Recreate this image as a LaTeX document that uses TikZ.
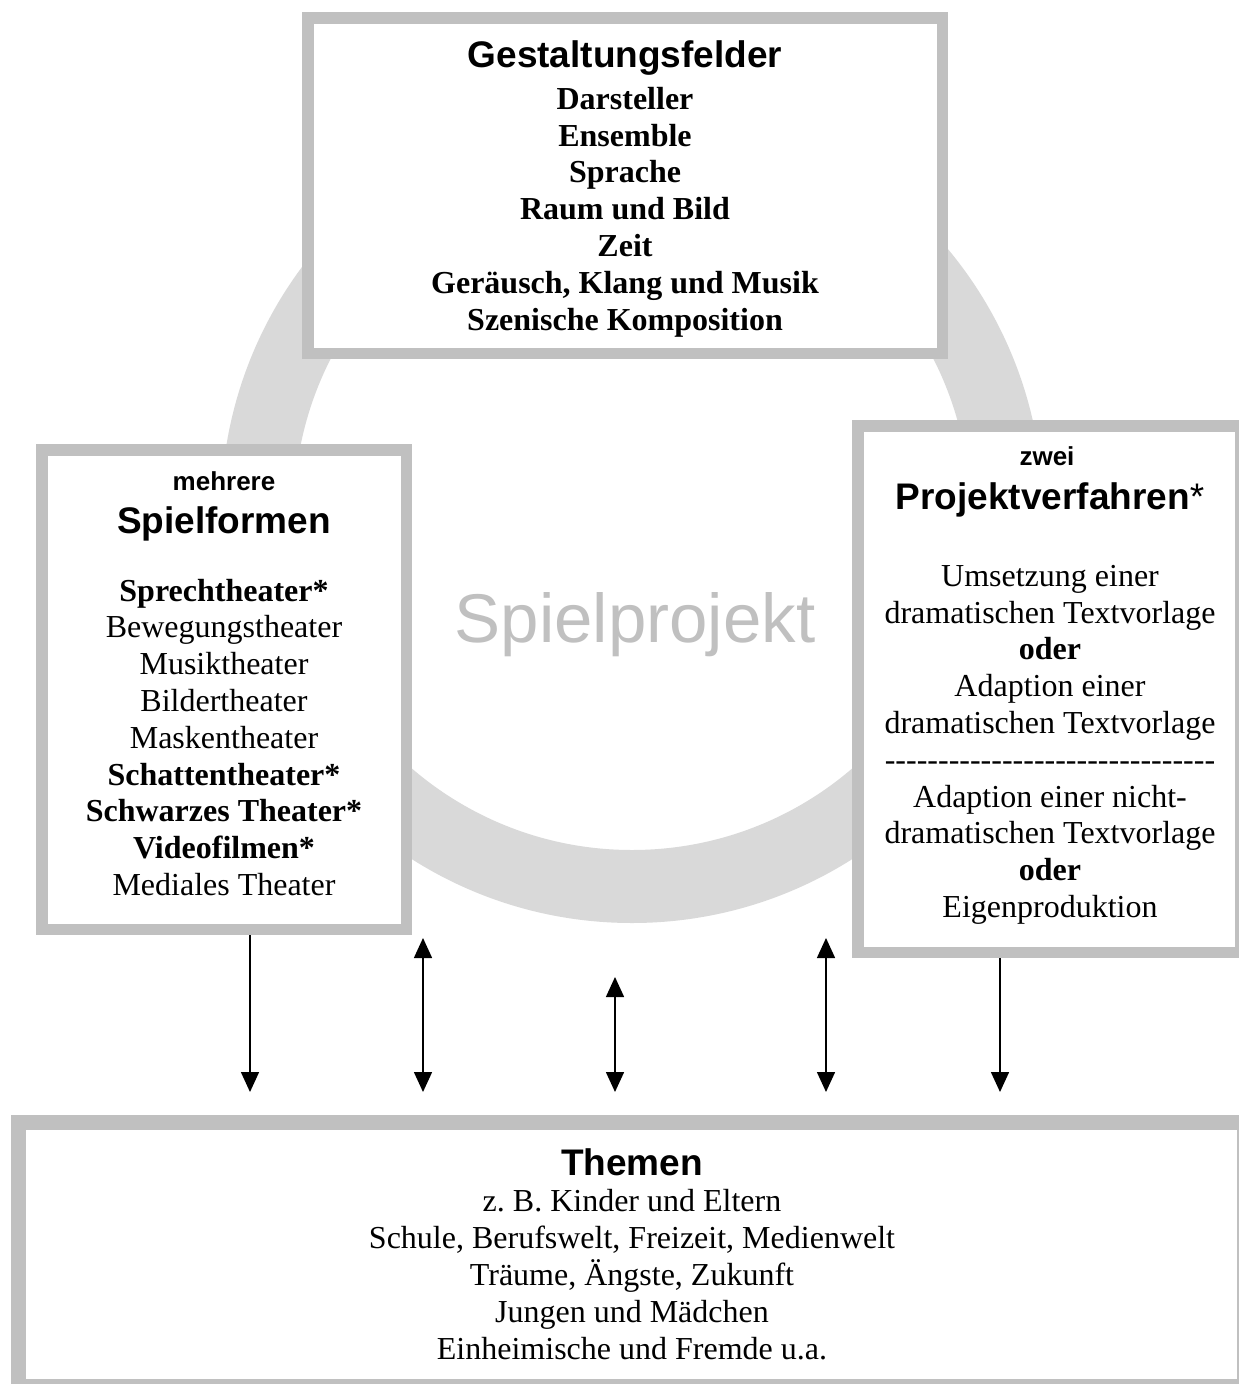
\documentclass[tikz,border=0pt]{standalone}
\usepackage{fontspec}
\setmainfont{Liberation Serif}
\setsansfont{Liberation Sans}
\usetikzlibrary{arrows.meta}
\definecolor{boxgray}{RGB}{192,192,192}
\definecolor{ringgray}{RGB}{217,217,217}
\newcommand\dsh{-\kern0pt}
\frenchspacing
\begin{document}
\begin{tikzpicture}[x=1pt,y=-1pt,
  frame/.style={draw=boxgray, fill=white, line width=11.5pt, rectangle, inner sep=0pt},
  body/.style={font=\fontsize{32}{36.8}\selectfont, align=center, anchor=base, inner sep=0pt},
  bodyb/.style={body, font=\fontsize{32}{36.8}\selectfont\bfseries},
  head/.style={font=\fontsize{37}{40}\selectfont\sffamily\bfseries, anchor=base, inner sep=0pt},
  small/.style={font=\fontsize{26}{30}\selectfont\sffamily\bfseries, anchor=base, inner sep=0pt},
  tipd/.style={-{Triangle[length=20pt,width=18pt]}, line width=1.5pt},
  tipb/.style={{Triangle[length=20pt,width=18pt]}-{Triangle[length=20pt,width=18pt]}, line width=1.5pt}
]
\clip (0,0) rectangle (1239,1384);
\useasboundingbox (0,0) rectangle (1239,1384);
\fill[white] (0,0) rectangle (1239,1384);
% ring
\fill[ringgray, even odd rule] (632,512) circle[radius=411pt] (632,512) circle[radius=338pt];
% boxes
\node[frame, minimum width=634.5pt, minimum height=335.5pt] (gest) at (625,185.5) {};
\node[frame, minimum width=364.5pt, minimum height=479.5pt] (spiel) at (224,689.5) {};
\node[frame, minimum width=383pt, minimum height=526.5pt] (proj) at (1049.25,689) {};
\node[frame, line width=15pt, minimum width=1226pt, minimum height=264pt] (themen) at (631.5,1254) {};
% center label
\node[font=\fontsize{69}{72}\selectfont\sffamily, text=boxgray, anchor=base, inner sep=0pt] (sp) at (635,642) {Spielprojekt};
% top box text (anchor = baseline of last line)
\node[head] (gestH) at (625,67) {Gestaltungsfelder};
\node[bodyb] (gestL) at (625,330) {Darsteller\\Ensemble\\Sprache\\Raum und Bild\\Zeit\\Geräusch, Klang und Musik\\Szenische Komposition};
% left box text
\node[small] (spielS) at (224,490) {mehrere};
\node[head] (spielH) at (224,533) {Spielformen};
\node[body] (spielL) at (224,895.5) {\textbf{Sprechtheater*}\\Bewegungstheater\\Musiktheater\\Bildertheater\\Maskentheater\\\textbf{Schattentheater*}\\\textbf{Schwarzes Theater*}\\\textbf{Videofilmen*}\\Mediales Theater};
% right box text
\node[small] (projS) at (1047,465) {zwei};
\node[head] (projH) at (1050,509) {Projektverfahren\textmd{*}};
\node[body] (projL) at (1050,917.5) {Umsetzung einer\\dramatischen Textvorlage\\\textbf{oder}\\Adaption einer\\dramatischen Textvorlage\\\dsh\dsh\dsh\dsh\dsh\dsh\dsh\dsh\dsh\dsh\dsh\dsh\dsh\dsh\dsh\dsh\dsh\dsh\dsh\dsh\dsh\dsh\dsh\dsh\dsh\dsh\dsh\dsh\dsh\dsh\dsh\\Adaption einer nicht-\\dramatischen Textvorlage\\\textbf{oder}\\Eigenproduktion};
% bottom box text
\node[head] (themH) at (632,1175) {Themen};
\node[body] (themL) at (632,1359) {z. B. Kinder und Eltern\\Schule, Berufswelt, Freizeit, Medienwelt\\Träume, Ängste, Zukunft\\Jungen und Mädchen\\Einheimische und Fremde u.a.};
% arrows
\coordinate (a1) at (250,1092);
\coordinate (t2) at (423,938);
\coordinate (b2) at (423,1092);
\coordinate (t3) at (615,977);
\coordinate (b3) at (615,1092);
\coordinate (t4) at (826,938);
\coordinate (b4) at (826,1092);
\coordinate (a5) at (1000,1092);
\draw[tipd] (spiel.south -| a1) -- (a1);
\draw[tipb] (t2) -- (b2);
\draw[tipb] (t3) -- (b3);
\draw[tipb] (t4) -- (b4);
\draw[tipd] (proj.south -| a5) -- (a5);
\end{tikzpicture}
\end{document}
